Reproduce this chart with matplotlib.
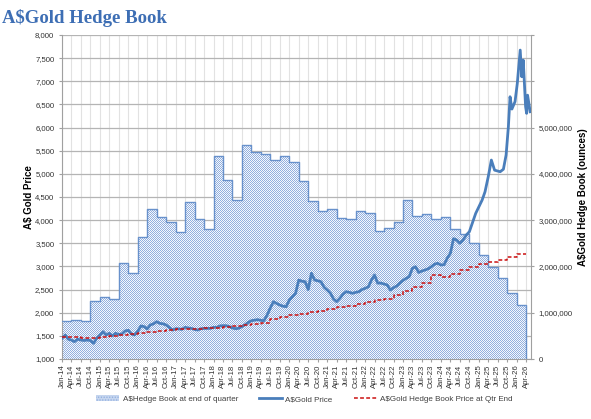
import matplotlib
matplotlib.use("Agg")
import matplotlib.pyplot as plt
import matplotlib.dates as mdates
import matplotlib.ticker as mticker
from matplotlib.patches import Patch
from matplotlib.lines import Line2D
import numpy as np
import pandas as pd

plt.rcParams['font.family'] = ['Liberation Sans', 'DejaVu Sans']
plt.rcParams['hatch.linewidth'] = 0.6

# Hedge book at end of quarter (ounces), one value per quarter from Jan-14
hedge_oz = [0.83, 0.85, 0.83, 1.26, 1.35, 1.30, 2.08, 1.85, 2.63, 3.25,
            3.06, 2.96, 2.74, 3.39, 3.03, 2.81, 4.38, 3.87, 3.43, 4.62,
            4.47, 4.43, 4.30, 4.38, 4.25, 3.85, 3.41, 3.20, 3.23, 3.05,
            3.02, 3.20, 3.15, 2.77, 2.82, 2.95, 3.43, 3.09, 3.13, 3.02,
            3.07, 2.81, 2.71, 2.51, 2.25, 1.99, 1.74, 1.42, 1.17]
hedge_oz = [v * 1e6 for v in hedge_oz]

# Hedge book price at quarter end (A$/oz)
hedge_price = [1482, 1475, 1460, 1447, 1469, 1500, 1518, 1540, 1569, 1590,
               1612, 1626, 1640, 1647, 1655, 1670, 1677, 1683, 1713, 1734,
               1756, 1778, 1857, 1900, 1943, 1965, 2022, 2037, 2080, 2116,
               2145, 2188, 2238, 2281, 2290, 2382, 2475, 2562, 2635, 2814,
               2778, 2836, 2923, 2980, 3052, 3102, 3138, 3197, 3268]

# A$ gold price, monthly from Jan-14 to Jun-25
gold_monthly = [1447, 1518, 1430, 1410, 1374, 1430, 1410, 1400, 1410, 1400, 1340, 1447,
                1520, 1590, 1518, 1555, 1500, 1555, 1530, 1540, 1605, 1620, 1540, 1518,
                1600, 1713, 1700, 1650, 1735, 1760, 1806, 1770, 1760, 1735, 1680, 1626,
                1655, 1650, 1640, 1684, 1670, 1662, 1640, 1626, 1655, 1660, 1662, 1662,
                1684, 1684, 1713, 1720, 1720, 1700, 1670, 1655, 1665, 1700, 1740, 1790,
                1828, 1840, 1850, 1835, 1828, 1950, 2100, 2238, 2200, 2166, 2140, 2130,
                2274, 2350, 2419, 2706, 2680, 2670, 2500, 2851, 2706, 2690, 2670, 2550,
                2490, 2419, 2300, 2238, 2310, 2400, 2454, 2440, 2419, 2440, 2454, 2500,
                2527, 2560, 2700, 2814, 2640, 2640, 2620, 2600, 2490, 2540, 2577, 2640,
                2700, 2743, 2778, 2960, 2994, 2870, 2900, 2923, 2950, 2994, 3050, 3067,
                3030, 3040, 3175, 3283, 3600, 3570, 3500, 3570, 3678, 3750, 3950, 4146,
                4290, 4434, 4614, 4938, 5298, 5080]
# recent, more volatile stretch
gold_recent_dates = ['2025-07-25', '2025-08-25', '2025-09-20', '2025-10-12', '2025-10-28',
                     '2025-11-15', '2025-12-15', '2026-01-06', '2026-02-03', '2026-02-18',
                     '2026-03-04', '2026-03-27', '2026-04-06', '2026-04-15', '2026-05-10']
gold_recent = [5046, 5100, 5406, 6018, 6666, 6400, 6560, 6955, 7674, 7098,
               7458, 6450, 6307, 6700, 6342]

quarters = pd.date_range('2014-01-01', periods=len(hedge_oz) + 1, freq='QS')
gold_dates = list(pd.date_range('2014-01-01', periods=len(gold_monthly), freq='MS')) + \
    list(pd.to_datetime(gold_recent_dates))
gold_values = gold_monthly + gold_recent

BLUE = '#4a7ebb'
GRID = '#b4b4b4'
TICK_FS = 5.6
W, H = 591, 419
AX_L, AX_B, AX_W, AX_H = 62, 60, 469, 324   # plot area in whole pixels

fig = plt.figure(figsize=(W / 100, H / 100), dpi=100)
ax = fig.add_axes([AX_L / W, AX_B / H, AX_W / W, AX_H / H])
ax2 = ax.twinx()

x_start, x_end = pd.Timestamp('2014-01-01'), pd.Timestamp('2026-05-18')
ax.set_xlim(x_start, x_end)
ax.set_ylim(0, 7e6)

# hedge book area (right scale), drawn on bottom axes so the grid sits behind it
edges_oz = hedge_oz + [hedge_oz[-1]]
area = ax.fill_between(quarters, edges_oz, step='post', facecolor='#c6d6ef',
                       linewidth=0, zorder=2)
# Excel-like fine checker pattern clipped to the area, one cell per pixel
checker = (np.indices((AX_H, AX_W)).sum(axis=0) % 2).astype(bool)
tex = np.empty((AX_H, AX_W, 3))
tex[checker] = matplotlib.colors.to_rgb('#93b0de')
tex[~checker] = matplotlib.colors.to_rgb('#f5f8fd')
im = ax.imshow(tex, extent=[mdates.date2num(x_start), mdates.date2num(x_end), 0, 7e6],
               aspect='auto', interpolation='none', zorder=2.5, origin='upper',
               resample=False)
im.set_clip_path(area.get_paths()[0], ax.transData)
ax.step(list(quarters) + [quarters[-1]], edges_oz + [0], where='post',
        color='#6891cb', linewidth=1.0, zorder=3)
ax.set_xlim(x_start, x_end)
ax.set_ylim(0, 7e6)

ax.yaxis.set_major_locator(mticker.MultipleLocator(1e6))
ax.yaxis.set_minor_locator(mticker.MultipleLocator(5e5))
ax.yaxis.set_major_formatter(mticker.FuncFormatter(
    lambda v, p: '' if v > 5e6 else f'{v:,.0f}'))
ax.yaxis.tick_right()
ax.yaxis.set_label_position('right')
ax.set_ylabel('A\\$Gold Hedge Book (ounces)', fontsize=7, fontweight='bold',
              labelpad=4)
ax.grid(axis='y', which='both', color=GRID, linewidth=0.9)
ax.grid(axis='x', which='major', color='#e2e2e2', linewidth=0.8)
ax.set_axisbelow(True)

ax.xaxis.set_major_locator(mdates.MonthLocator(bymonth=[1, 4, 7, 10]))
ax.xaxis.set_major_formatter(mdates.DateFormatter('%b-%y'))
ax.tick_params(axis='x', labelsize=TICK_FS, rotation=90, length=2, color='#a0a0a0',
               labelcolor='#333333', pad=2)
ax.tick_params(axis='y', which='both', labelsize=TICK_FS, length=2, color='#a0a0a0',
               labelcolor='#333333')
ax.tick_params(axis='y', which='minor', length=0)

for side in ['left', 'right', 'bottom']:
    ax.spines[side].set_color('#a0a0a0')
ax.spines['top'].set_visible(False)

# gold price and hedge book price (left scale)
ax2.plot(gold_dates, gold_values, color=BLUE, linewidth=2.0, zorder=4)
ax2.step(list(quarters), hedge_price + [hedge_price[-1]], where='post',
         color='#cc1111', linewidth=1.1, dashes=(2.5, 1.5), zorder=5)
ax2.set_ylim(1000, 8000)
ax2.yaxis.set_major_locator(mticker.MultipleLocator(500))
ax2.yaxis.set_major_formatter(mticker.FuncFormatter(lambda v, p: f'{v:,.0f}'))
ax2.yaxis.tick_left()
ax2.yaxis.set_label_position('left')
ax2.set_ylabel('A\\$ Gold Price', fontsize=7, fontweight='bold', labelpad=1)
ax2.tick_params(axis='y', labelsize=TICK_FS, length=2, color='#a0a0a0',
                labelcolor='#333333')
for s in ax2.spines.values():
    s.set_visible(False)

fig.text(0.004, 0.958, 'A\\$Gold Hedge Book', fontsize=13.5, fontweight='bold',
         family='Liberation Serif', color='#3d6eb4', va='center', ha='left')

handles = [
    Patch(facecolor='#c6d6ef', edgecolor='#8fadde', hatch='......', linewidth=0),
    Line2D([], [], color=BLUE, linewidth=2.0),
    Line2D([], [], color='#cc1111', linewidth=1.1, dashes=(2.5, 1.5)),
]
labels = ['A\\$Hedge Book at end of quarter', 'A\\$Gold Price',
          'A\\$Gold Hedge Book Price at Qtr End']
fig.legend(handles, labels, loc='center', bbox_to_anchor=(0.515, 0.047), ncol=3,
           frameon=False, fontsize=5.8, handlelength=2.9, columnspacing=2.6,
           handletextpad=0.4, labelcolor='#404040')

fig.savefig('out.png', dpi=100)
